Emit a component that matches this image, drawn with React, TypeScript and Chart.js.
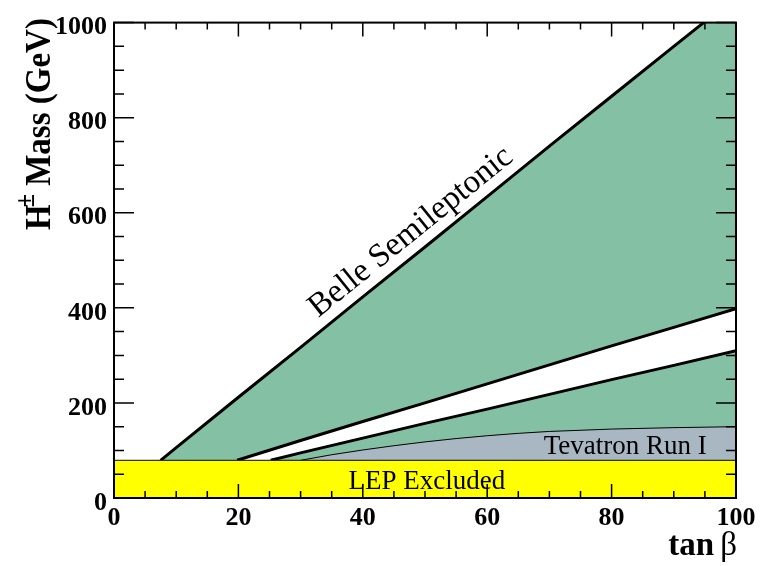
import React, { useEffect, useRef } from "react";
import { Chart, registerables } from "chart.js";

Chart.register(...registerables);

// tan(beta) / charged Higgs mass (GeV) boundaries
const tanBetaBelle = [7.5, 10, 20, 30, 40, 50, 60, 70, 80, 90, 95, 100];
const massBelle = [79.3, 106, 212, 317, 423, 528, 634, 740, 845, 950, 1002, 1055];

const tanBetaBandHigh = [19.8, 30, 40, 50, 60, 70, 80, 90, 100];
const massBandHigh = [79.3, 121, 161, 200, 240, 280, 320, 359, 398];

const tanBetaBandLow = [25.2, 30, 40, 50, 60, 70, 80, 90, 100];
const massBandLow = [79.3, 95, 126, 157, 187, 218, 249, 279, 310];

const tanBetaTevatron = [30, 35, 40, 45, 50, 55, 60, 65, 70, 80, 90, 100];
const massTevatron = [79.3, 91, 101, 110, 118, 125, 131, 136, 140, 145, 148, 150];

const tanBetaLep = [0, 100];
const massLep = [79.3, 79.3];

// axis ticks
const xTickLabels = [0, 20, 40, 60, 80, 100];
const yTickLabels = [0, 200, 400, 600, 800, 1000];
const xMinorStep = 5;
const yMinorStep = 50;

const SERIF = '"Liberation Serif", "DejaVu Serif", serif';
const GREEN = "#84C1A4";
const GRAY = "#A9B7C3";
const YELLOW = "#FFFF00";

const pts = (xs: number[], ys: number[]) => xs.map((x, i) => ({ x, y: ys[i] }));

const frameTicks = {
  id: "frameTicks",
  afterDatasetsDraw(chart: any) {
    const { ctx, chartArea: a, scales } = chart;
    const x = scales.x;
    const y = scales.y;
    ctx.save();
    ctx.strokeStyle = "#000";
    ctx.lineWidth = 1.5;
    ctx.beginPath();
    for (let v = 0; v <= 100; v += xMinorStep) {
      const px = x.getPixelForValue(v);
      const len = v % 20 === 0 ? 14 : 7;
      ctx.moveTo(px, a.bottom);
      ctx.lineTo(px, a.bottom - len);
      ctx.moveTo(px, a.top);
      ctx.lineTo(px, a.top + len);
    }
    for (let v = 0; v <= 1000; v += yMinorStep) {
      const py = y.getPixelForValue(v);
      const len = v % 200 === 0 ? 20 : 10;
      ctx.moveTo(a.left, py);
      ctx.lineTo(a.left + len, py);
      ctx.moveTo(a.right, py);
      ctx.lineTo(a.right - len, py);
    }
    ctx.stroke();
    ctx.lineWidth = 2;
    ctx.strokeRect(a.left, a.top, a.right - a.left, a.bottom - a.top);
    ctx.restore();
  },
};

const annotations = {
  id: "annotations",
  afterDraw(chart: any) {
    const { ctx, scales } = chart;
    const x = scales.x;
    const y = scales.y;
    ctx.save();
    ctx.fillStyle = "#000";

    // region labels
    ctx.font = `27px ${SERIF}`;
    ctx.textBaseline = "alphabetic";
    ctx.textAlign = "center";
    ctx.fillText("LEP Excluded", x.getPixelForValue(50.3), y.getPixelForValue(19));
    ctx.textAlign = "right";
    ctx.fillText("Tevatron Run I", x.getPixelForValue(95.3), y.getPixelForValue(93));

    // label along the Belle boundary
    const p1x = x.getPixelForValue(10);
    const p1y = y.getPixelForValue(106);
    const p2x = x.getPixelForValue(90);
    const p2y = y.getPixelForValue(950);
    const ang = Math.atan2(p2y - p1y, p2x - p1x);
    ctx.save();
    ctx.translate(x.getPixelForValue(48.6), y.getPixelForValue(545));
    ctx.rotate(ang);
    ctx.font = `33px ${SERIF}`;
    ctx.textAlign = "center";
    ctx.fillText("Belle Semileptonic", 0, 0);
    ctx.restore();

    // y-axis title with superscript
    ctx.save();
    ctx.translate(50, 124);
    ctx.rotate(-Math.PI / 2);
    ctx.scale(1, 1.1);
    ctx.textAlign = "left";
    const mainFont = `bold 33px ${SERIF}`;
    const supFont = `bold 24px ${SERIF}`;
    ctx.font = mainFont;
    const wH = ctx.measureText("H").width;
    const rest = " Mass (GeV)";
    const wRest = ctx.measureText(rest).width;
    ctx.font = supFont;
    const wPm = ctx.measureText("\u00B1").width;
    const total = wH + wPm - 3 + wRest;
    const cx = -total / 2;
    ctx.font = mainFont;
    ctx.fillText("H", cx, 0);
    ctx.font = supFont;
    ctx.fillText("\u00B1", cx + wH - 3, -15);
    ctx.font = mainFont;
    ctx.fillText(rest, cx + wH - 3 + wPm, 0);
    ctx.restore();

    // x-axis title
    ctx.textAlign = "right";
    ctx.font = `33px ${SERIF}`;
    const wBeta = ctx.measureText("\u03B2").width;
    ctx.fillText("\u03B2", 737, 555);
    ctx.font = `bold 33px ${SERIF}`;
    ctx.fillText("tan", 737 - wBeta - 6, 555);

    ctx.restore();
  },
};

export default function App() {
  const ref = useRef<HTMLCanvasElement>(null);

  useEffect(() => {
    const canvas = ref.current;
    if (!canvas) return;
    const tickFont = { family: SERIF, size: 26, weight: "bold" as const };
    const plain = (v: any) => String(v);
    const chart = new Chart(canvas, {
      type: "line",
      data: {
        datasets: [
          {
            label: "LEP Excluded",
            data: pts(tanBetaLep, massLep),
            fill: "origin",
            backgroundColor: YELLOW,
            borderColor: "#000",
            borderWidth: 1,
            pointRadius: 0,
            order: 1,
          },
          {
            label: "Tevatron Run I",
            data: pts(tanBetaTevatron, massTevatron),
            fill: "origin",
            backgroundColor: GRAY,
            borderColor: "#000",
            borderWidth: 1,
            pointRadius: 0,
            order: 2,
          },
          {
            label: "Band lower edge",
            data: pts(tanBetaBandLow, massBandLow),
            fill: "origin",
            backgroundColor: GREEN,
            borderColor: "#000",
            borderWidth: 3,
            pointRadius: 0,
            order: 3,
          },
          {
            label: "Band upper edge",
            data: pts(tanBetaBandHigh, massBandHigh),
            fill: "origin",
            backgroundColor: "#FFFFFF",
            borderColor: "#000",
            borderWidth: 3,
            pointRadius: 0,
            order: 4,
          },
          {
            label: "Belle Semileptonic",
            data: pts(tanBetaBelle, massBelle),
            fill: "origin",
            backgroundColor: GREEN,
            borderColor: "#000",
            borderWidth: 3,
            pointRadius: 0,
            order: 5,
          },
        ],
      },
      options: {
        animation: false,
        responsive: false,
        events: [],
        layout: { padding: { top: 18.5, right: 31, left: 0, bottom: 0 } },
        plugins: { legend: { display: false }, tooltip: { enabled: false } },
        elements: { line: { tension: 0 } },
        scales: {
          x: {
            type: "linear",
            min: 0,
            max: 100,
            grid: { display: false, drawTicks: false },
            border: { display: false },
            afterBuildTicks: (s: any) => {
              s.ticks = xTickLabels.map((v) => ({ value: v }));
            },
            afterFit: (s: any) => {
              s.height = 68;
            },
            ticks: { font: tickFont, color: "#000", padding: 5, maxRotation: 0, autoSkip: false, callback: plain },
          },
          y: {
            type: "linear",
            min: 0,
            max: 1000,
            grid: { display: false, drawTicks: false },
            border: { display: false },
            afterBuildTicks: (s: any) => {
              s.ticks = yTickLabels.map((v) => ({ value: v }));
            },
            afterFit: (s: any) => {
              s.width = 114;
            },
            ticks: { font: tickFont, color: "#000", padding: 7, labelOffset: 5, autoSkip: false, callback: plain },
          },
        },
      },
      plugins: [frameTicks, annotations],
    });
    return () => chart.destroy();
  }, []);

  return (
    <div style={{ position: "absolute", left: 0, top: 0, width: 767, height: 566, background: "#fff" }}>
      <canvas ref={ref} width={767} height={566} style={{ display: "block", width: 767, height: 566 }} />
    </div>
  );
}
